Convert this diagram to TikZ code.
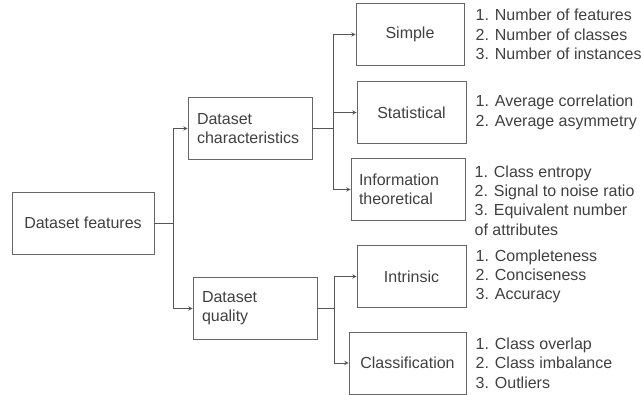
\documentclass[tikz,border=0pt]{standalone}
\usepackage{fontspec}
\setmainfont{Liberation Sans}
\usepackage{tikz}
\usetikzlibrary{positioning,arrows}

\definecolor{boxline}{HTML}{666666}
\definecolor{wire}{HTML}{555555}
\definecolor{txt}{HTML}{404040}

\begin{document}
\begin{tikzpicture}[
    x=1pt, y=-1pt,
    every node/.style={text=txt, font=\fontsize{16}{19.3}\selectfont},
    block/.style={rectangle, draw=boxline, line width=0.9pt, align=center, minimum height=62pt},
    lblock/.style={block, align=left, inner xsep=9pt},
    items/.style={align=left, inner sep=0pt},
    arrow/.style={-stealth, draw=wire, line width=0.9pt}
]
\useasboundingbox (0,0) rectangle (641,395);

\node[block, minimum width=142pt] (feat) at (83,223) {Dataset features};
\node[lblock, text width=106pt] (char) at (250,128.5) {Dataset\\characteristics};
\node[lblock, text width=106pt] (qual) at (255,308.5) {Dataset\\quality};

\node[block, minimum width=108pt] (simple) at (410,34.5) {Simple};
\node[block, minimum width=109pt] (stat) at (411.5,112.5) {Statistical};
\node[lblock, text width=98pt, inner xsep=8pt] (info) at (408,189.5) {Information\\theoretical};
\node[block, minimum width=109pt] (intr) at (411.5,276.5) {Intrinsic};
\node[block, minimum width=117pt] (clas) at (407.5,363) {Classification};

\node[items, right=11pt of simple] (simplelist) {1. Number of features\\2. Number of classes\\3. Number of instances};
\node[items, right=9pt of stat] (statlist) {1. Average correlation\\2. Average asymmetry};
\node[items, right=9pt of info, yshift=-11pt] (infolist) {1. Class entropy\\2. Signal to noise ratio\\3. Equivalent number\\of attributes};
\node[items, right=9pt of intr] (intrlist) {1. Completeness\\2. Conciseness\\3. Accuracy};
\node[items, right=9pt of clas] (claslist) {1. Class overlap\\2. Class imbalance\\3. Outliers};

\draw[arrow] (feat.east) -- ++(19,0) |- (char.west);
\draw[arrow] (feat.east) -- ++(19,0) |- (qual.west);

\draw[arrow] (char.east) -- ++(21,0) |- (simple.west);
\draw[arrow] (char.east) -- ++(21,0) |- (stat.west);
\draw[arrow] (char.east) -- ++(21,0) |- (info.west);

\draw[arrow] (qual.east) -- ++(17,0) |- (intr.west);
\draw[arrow] (qual.east) -- ++(17,0) |- (clas.west);

\end{tikzpicture}
\end{document}
